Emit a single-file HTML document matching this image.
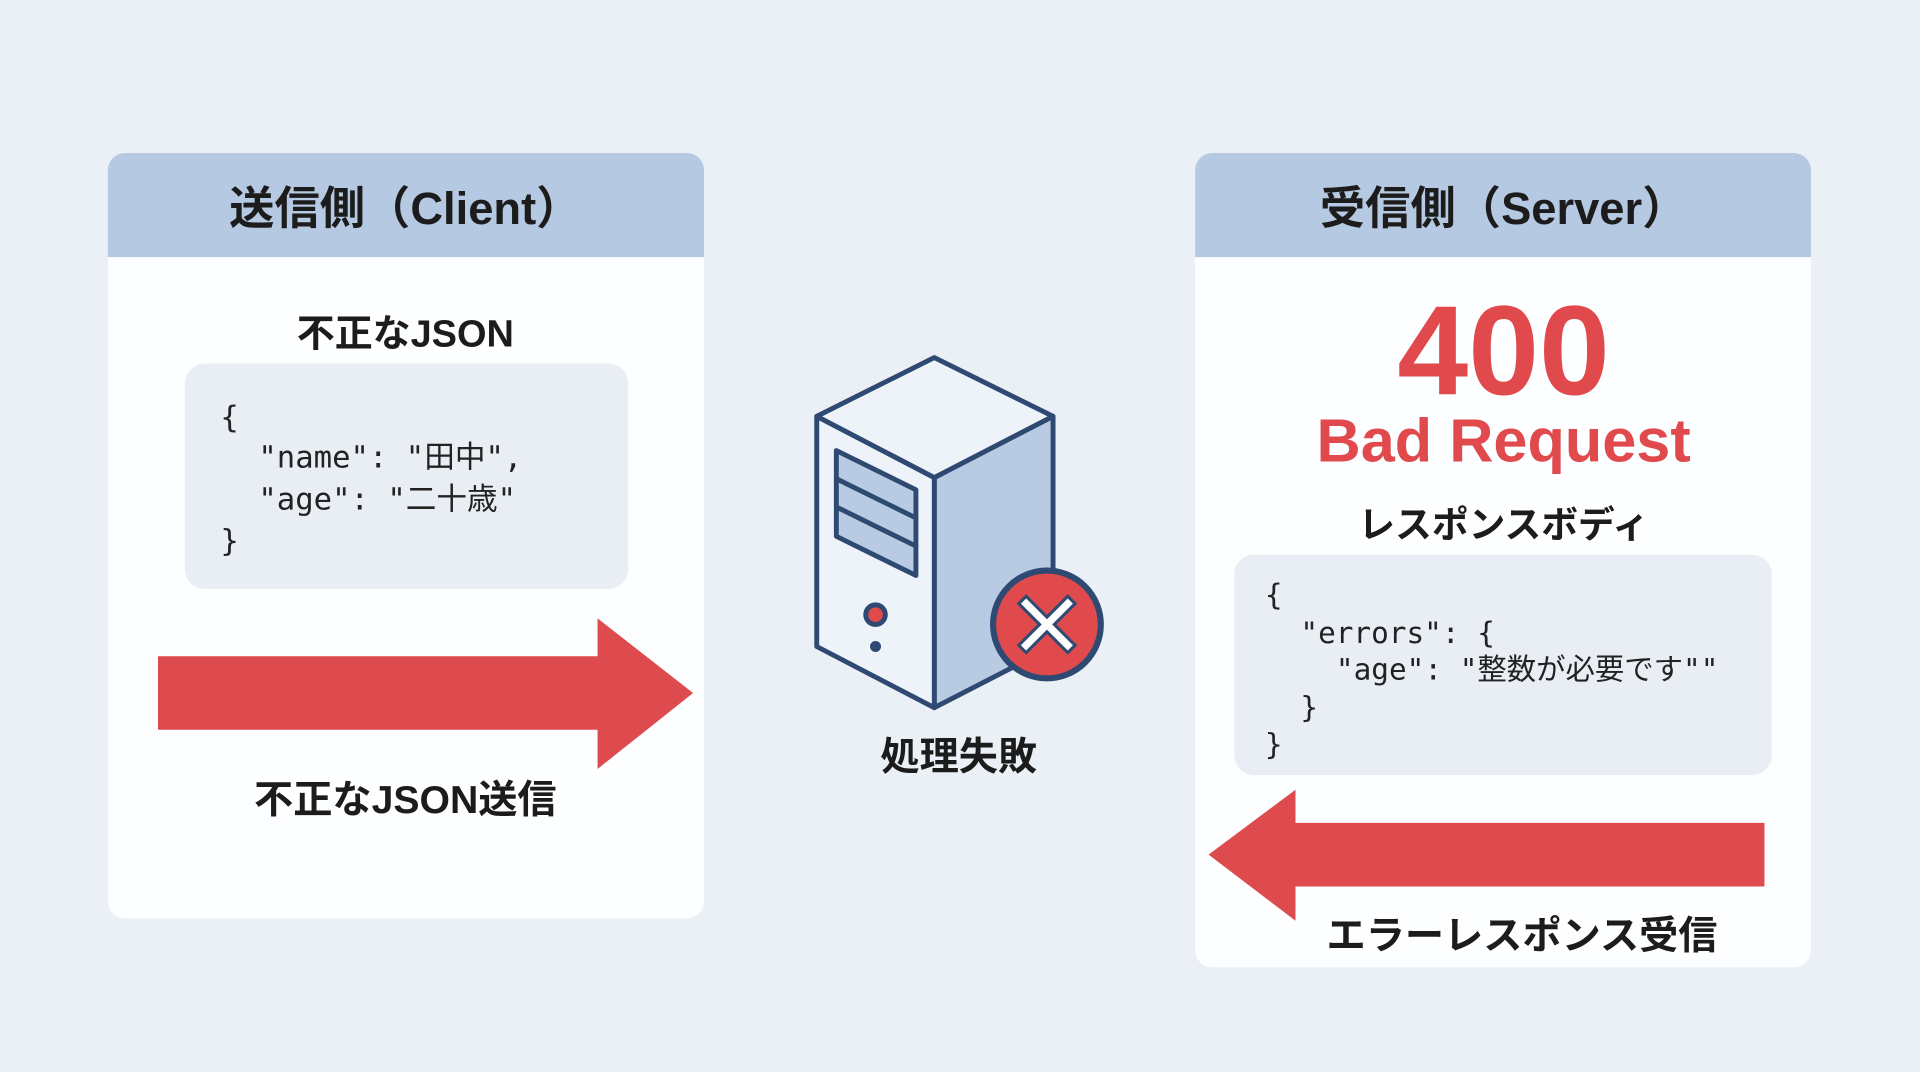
<!DOCTYPE html>
<html><head><meta charset="utf-8"><style>
html,body{margin:0;padding:0;background:#eaf0f5;}
svg{display:block;}
text{font-family:"Liberation Sans","Noto Sans CJK JP",sans-serif;font-weight:bold;fill:#1c1c1c;}
.code{font-family:"DejaVu Sans Mono","Noto Sans CJK JP",monospace;font-weight:normal;fill:#222;}
</style></head><body>
<svg width="1920" height="1072" viewBox="0 0 1568 875.5" xmlns="http://www.w3.org/2000/svg">
<rect width="1568" height="876" fill="#eaf0f5"/>
<!-- Left panel -->
<rect x="88" y="125" width="487" height="625" rx="14" fill="#fdfeff"/>
<path d="M88 210 V139 A14 14 0 0 1 102 125 H561 A14 14 0 0 1 575 139 V210 Z" fill="#b5c9e2"/>
<text x="331" y="183" font-size="37" text-anchor="middle">送信側（Client）</text>
<text x="331" y="283" font-size="31" text-anchor="middle">不正なJSON</text>
<rect x="151" y="297" width="362" height="184" rx="16" fill="#e8eef4"/>
<text class="code" font-size="25" x="180" y="349">{</text>
<text class="code" font-size="25" x="211" y="382">"name": "田中",</text>
<text class="code" font-size="25" x="211" y="416">"age": "二十歳"</text>
<text class="code" font-size="25" x="180" y="450">}</text>
<polygon points="129,536 488,536 488,505 566,566 488,628 488,596 129,596" fill="#de4b4e"/>
<text x="331" y="664" font-size="32" text-anchor="middle">不正なJSON送信</text>
<!-- Right panel -->
<rect x="976" y="125" width="503" height="665" rx="14" fill="#fdfeff"/>
<path d="M976 210 V139 A14 14 0 0 1 990 125 H1465 A14 14 0 0 1 1479 139 V210 Z" fill="#b5c9e2"/>
<text x="1228" y="183" font-size="37" text-anchor="middle">受信側（Server）</text>
<text x="1228" y="322" font-size="104" text-anchor="middle" fill="#e04a4c" style="fill:#e04a4c">400</text>
<text x="1228" y="377" font-size="50" text-anchor="middle" style="fill:#e04a4c">Bad Request</text>
<text x="1228" y="439" font-size="30" text-anchor="middle">レスポンスボディ</text>
<rect x="1008" y="453" width="439" height="180" rx="16" fill="#e8eef4"/>
<text class="code" font-size="24" x="1033" y="494">{</text>
<text class="code" font-size="24" x="1062" y="525">"errors": {</text>
<text class="code" font-size="24" x="1091" y="555">"age": "整数が必要です""</text>
<text class="code" font-size="24" x="1062" y="586">}</text>
<text class="code" font-size="24" x="1033" y="616">}</text>
<polygon points="1441,672 1058,672 1058,645 987,698 1058,752 1058,724 1441,724" fill="#de4b4e"/>
<text x="1243" y="775" font-size="32" text-anchor="middle">エラーレスポンス受信</text>
<!-- Server icon -->
<g stroke="#2e4a72" stroke-width="4" stroke-linejoin="round" stroke-linecap="round">
<polygon points="763,390 860,340 860,528 763,578" fill="#b9cbe3"/>
<polygon points="667,340 763,390 763,578 667,528" fill="#eef3f9"/>
<polygon points="667,340 763,292 860,340 763,390" fill="#eef3f9"/>
<polygon points="683,368 748,400 748,470 683,438" fill="#b9cbe3"/>
<line x1="683" y1="391" x2="748" y2="423"/>
<line x1="683" y1="414" x2="748" y2="446"/>
<circle cx="715" cy="502" r="8" fill="#e04a4c"/>
<circle cx="715" cy="528" r="2.5" fill="#2e4a72"/>
<circle cx="855" cy="510" r="44" fill="#e04a4c" stroke-width="5"/>
</g>
<g stroke="#2e4a72" stroke-width="11" stroke-linecap="square"><line x1="838" y1="493" x2="872" y2="527"/><line x1="872" y1="493" x2="838" y2="527"/></g>
<g stroke="#ffffff" stroke-width="6" stroke-linecap="square"><line x1="838" y1="493" x2="872" y2="527"/><line x1="872" y1="493" x2="838" y2="527"/></g>
<text x="783" y="629" font-size="32" text-anchor="middle">処理失敗</text>
</svg>
</body></html>
